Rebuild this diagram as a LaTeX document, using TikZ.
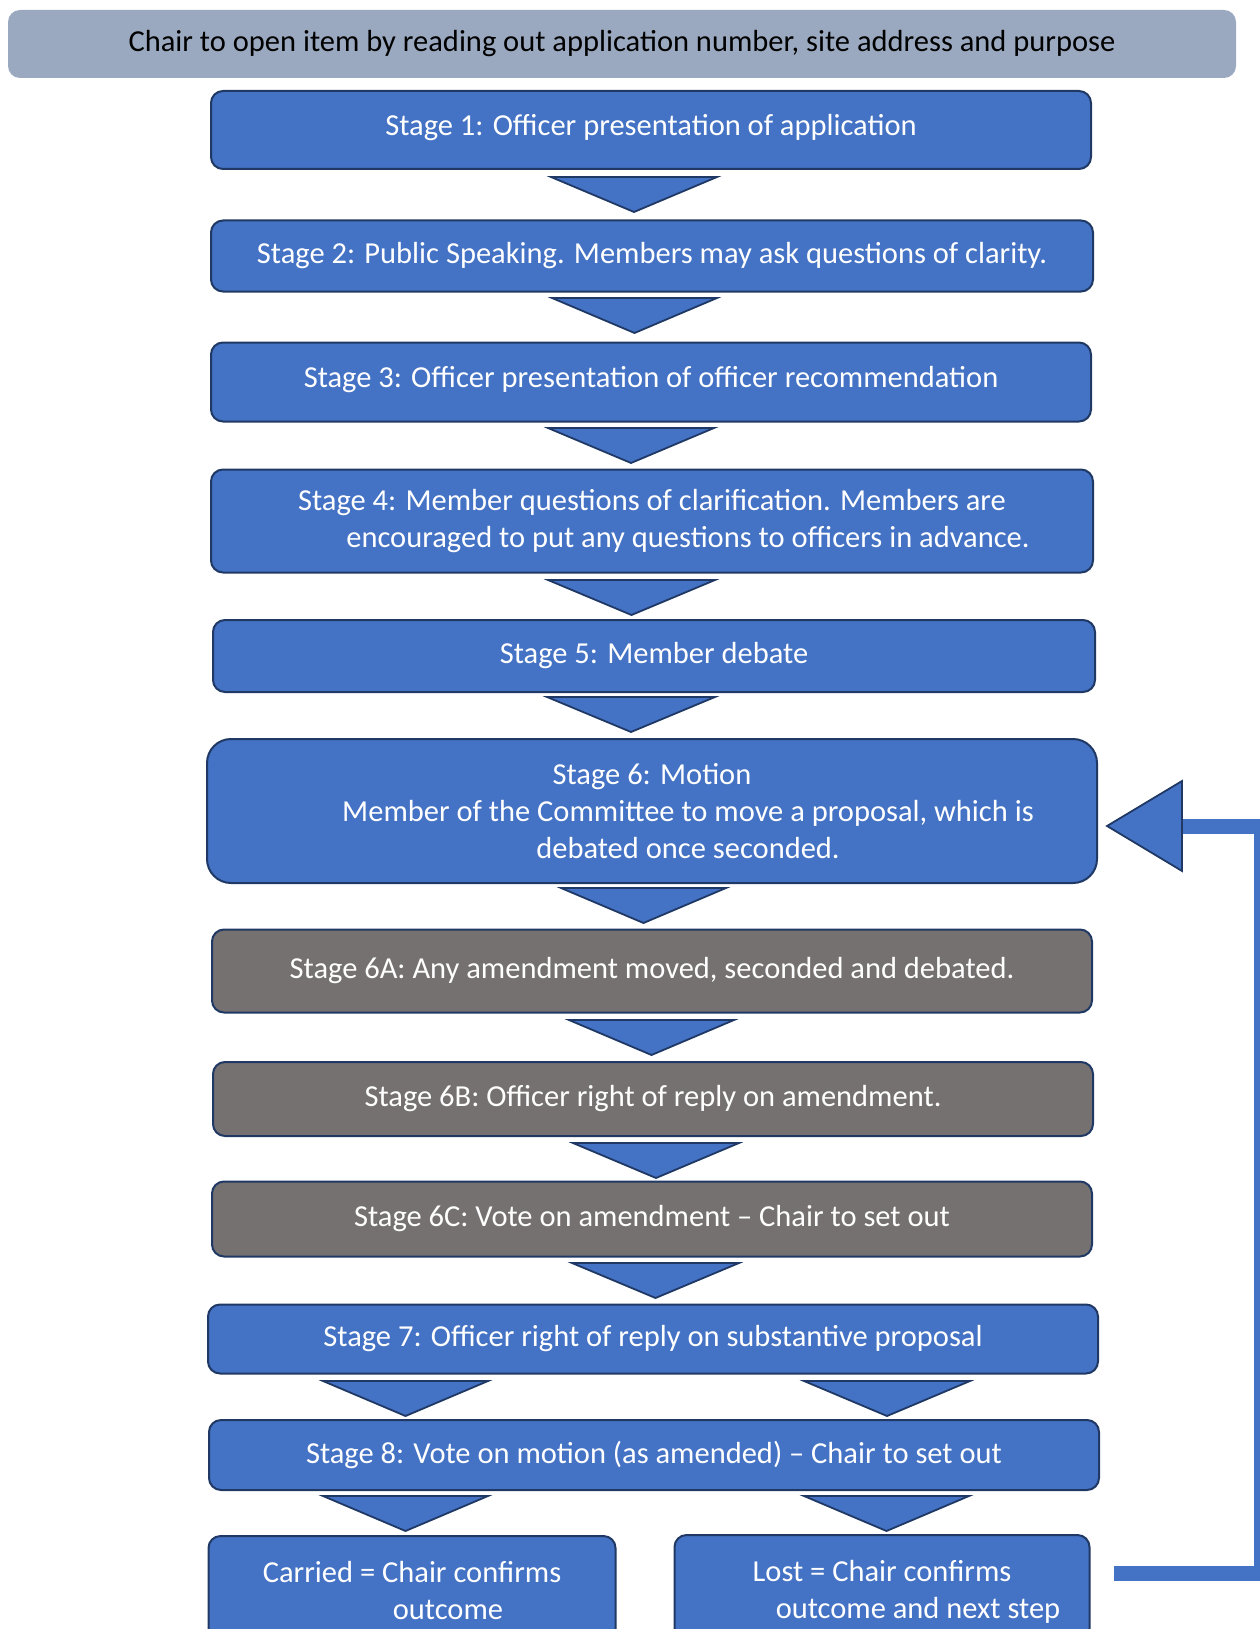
\documentclass[tikz,border=0pt]{standalone}
\usepackage{fontspec}
\setmainfont{Carlito}
\usepackage{tikz}
\usetikzlibrary{arrows.meta}
\definecolor{stageblue}{HTML}{4472C4}
\definecolor{navyline}{HTML}{1F3864}
\definecolor{amendgrey}{HTML}{767171}
\definecolor{bannergrey}{HTML}{9AA9BF}
\newcommand{\stagefont}{\fontsize{30.5}{37}\selectfont}
\tikzset{
stagebox/.style = {rectangle, rounded corners=12pt, draw=navyline, line width=2pt, fill=stageblue, text=white, align=center, font=\stagefont, minimum width=#1},
stagebox/.default = 880pt, % usual width of a stage
amendbox/.style = {stagebox, fill=amendgrey},
downtri/.style = {draw=navyline, line width=1.8pt, fill=stageblue, line join=miter},
}
% block arrow between two stages: left x, right x, top y
\newcommand{\flowtri}[3]{\draw[downtri] (#1,#3) -- (#2,#3) -- ({(#1+#2)/2},#3+35) -- cycle;}

\begin{document}
\begin{tikzpicture}[x=1pt, y=-1pt]
    \useasboundingbox (0,0) rectangle (1259,1629);

    \node[rectangle, rounded corners=12pt, fill=bannergrey, minimum width=1228pt, minimum height=68pt, font=\stagefont] (banner) at (622,44) {Chair to open item by reading out application number, site address and purpose};

    \node[stagebox, minimum height=78pt] (stageOne) at (651,130) {\raisebox{10pt}{Stage 1: Officer presentation of application}};
    \node[stagebox=882pt, minimum height=71pt] (stageTwo) at (652,256) {Stage 2: Public Speaking. Members may ask questions of clarity.};
    \node[stagebox, minimum height=79pt] (stageThree) at (651,382) {\raisebox{10pt}{Stage 3: Officer presentation of officer recommendation}};
    \node[stagebox=882pt, minimum height=103pt] (stageFour) at (652,521) {Stage 4: Member questions of clarification. Members are\\ \hspace*{72pt}encouraged to put any questions to officers in advance.};
    \node[stagebox=882pt, minimum height=72pt] (stageFive) at (654,656) {Stage 5: Member debate};
    \node[stagebox=890pt, rounded corners=24pt, minimum height=144pt] (stageSix) at (652,811) {Stage 6: Motion\\ \hspace*{72pt}Member of the Committee to move a proposal, which is\\ \hspace*{72pt}debated once seconded.};

    \node[amendbox=891pt, minimum height=83pt] (stageSixA) at (652,971) {Stage 6A: Any amendment moved, seconded and debated.};
    \node[amendbox=890pt, minimum height=74pt] (stageSixB) at (653,1099) {Stage 6B: Officer right of reply on amendment.};
    \node[amendbox=890pt, minimum height=75pt] (stageSixC) at (652,1219) {Stage 6C: Vote on amendment -- Chair to set out};

    \node[stagebox=890pt, minimum height=69pt] (stageSeven) at (653,1339) {Stage 7: Officer right of reply on substantive proposal};
    \node[stagebox=890pt, minimum height=70pt] (stageEight) at (654,1455) {Stage 8: Vote on motion (as amended) -- Chair to set out};

    \node[stagebox=407pt, minimum height=116pt] (carried) at (412,1594) {\raisebox{7pt}{\begin{tabular}{@{}c@{}}Carried = Chair confirms\\ \hspace*{72pt}outcome\end{tabular}}};
    \node[stagebox=415pt, minimum height=116pt] (lost) at (882,1593) {\raisebox{7pt}{\begin{tabular}{@{}c@{}}Lost = Chair confirms\\ \hspace*{72pt}outcome and next step\end{tabular}}};

    \flowtri{551}{717}{177}
    \flowtri{552}{717}{298}
    \flowtri{548}{714}{428}
    \flowtri{548}{715}{580}
    \flowtri{547}{715}{697}
    \flowtri{561}{726}{888}
    \flowtri{569}{734}{1020}
    \flowtri{573}{739}{1143}
    \flowtri{572}{739}{1263}
    \flowtri{323}{488}{1381}
    \flowtri{804}{970}{1381}
    \flowtri{323}{488}{1496}
    \flowtri{804}{969}{1496}

    % back to stage 6 when the motion is lost
    \coordinate (loopStart) at (1114,1573);
    \coordinate (loopEnd) at (1180,826.5);
    \draw[stageblue, line width=15pt] (loopStart) -- (1261,1573) |- (loopEnd);
    \draw[downtri] (1107,826) -- (1182,781) -- (1182,871) -- cycle;
\end{tikzpicture}
\end{document}
